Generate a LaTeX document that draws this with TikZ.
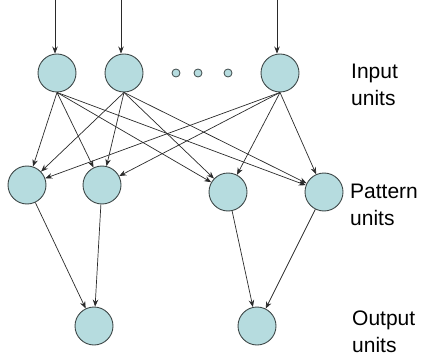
\documentclass[tikz,border=0pt]{standalone}
\usepackage{fontspec}
\setmainfont{Liberation Sans}
\usetikzlibrary{arrows.meta}
\definecolor{unitfill}{HTML}{B6DCDF}
\definecolor{unitline}{HTML}{3E4848}
\definecolor{edge}{HTML}{2A2A2A}
\begin{document}
\begin{tikzpicture}[x=1pt,y=-1pt,
  unit/.style={circle,draw=unitline,fill=unitfill,line width=0.9pt,minimum size=38pt,inner sep=0pt},
  dot/.style={circle,draw=unitline,fill=unitfill,line width=0.8pt,minimum size=8pt,inner sep=0pt},
  conn/.style={draw=edge,line width=0.7pt,-{Stealth[length=7pt,width=5.5pt]}},
  lbl/.style={anchor=west,align=left,font=\fontsize{21}{27}\selectfont,inner sep=0pt}]
\useasboundingbox (0,0) rectangle (427,363);
% input units
\node[unit] (i1) at (57,73) {};
\node[unit] (i2) at (124,73) {};
\node[unit] (i3) at (280,73) {};
\node[dot] (d1) at (176,73) {};
\node[dot] (d2) at (198,73) {};
\node[dot] (d3) at (228,73) {};
% pattern units
\node[unit] (p1) at (27,185) {};
\node[unit] (p2) at (102,185) {};
\node[unit] (p3) at (228,192) {};
\node[unit] (p4) at (324,192) {};
% output units
\node[unit] (o1) at (94,326) {};
\node[unit] (o2) at (257,326) {};
% input arrows
\coordinate (t1) at (55,0);
\coordinate (t2) at (121,0);
\coordinate (t3) at (277,0);
\draw[conn] (t1) -- (t1 |- i1.north);
\draw[conn] (t2) -- (t2 |- i2.north);
\draw[conn] (t3) -- (t3 |- i3.north);
% input -> pattern
\foreach \i in {i1,i2,i3}{
  \foreach \p in {p1,p2,p3,p4}{
    \draw[conn] (\i.south) -- (\p);
  }
}
% pattern -> output
\draw[conn] (p1) -- (o1);
\draw[conn] (p2) -- (o1);
\draw[conn] (p3) -- (o2);
\draw[conn] (p4) -- (o2);
% labels
\node[lbl] (l1) at (351,85) {Input\\units};
\node[lbl] (l2) at (350,205) {Pattern\\units};
\node[lbl] (l3) at (352,332) {Output\\units};
\end{tikzpicture}
\end{document}
